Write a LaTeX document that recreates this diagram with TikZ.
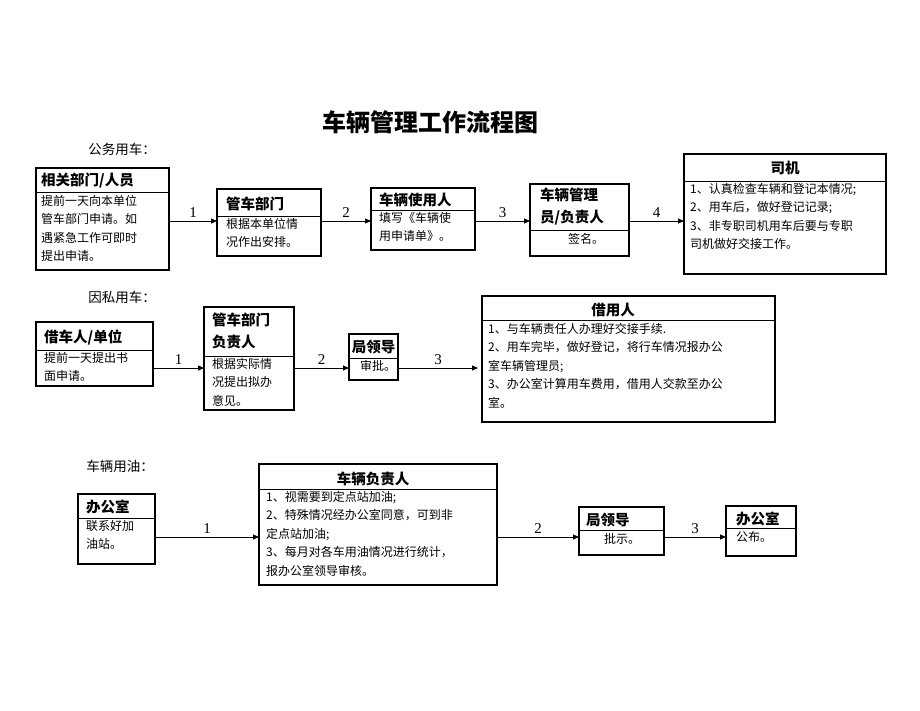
\documentclass[tikz,border=0pt]{standalone}
\usepackage{fontspec}
\setmainfont{Liberation Serif}
\newfontfamily\cjk{Noto Sans CJK SC}
\usetikzlibrary{arrows.meta}
\begin{document}
\begin{tikzpicture}[x=1pt,y=-1pt,
 box/.style={draw,line width=1.1pt,inner sep=0pt},
 hd/.style={font=\cjk\bfseries\fontsize{14.5}{17}\selectfont,inner sep=0pt,align=left},
 bd/.style={font=\cjk\fontsize{12}{18.5}\selectfont,inner sep=0pt,align=left,anchor=north west},
 lab/.style={font=\cjk\fontsize{13.5}{15}\selectfont},
 num/.style={font=\fontsize{15}{16}\selectfont,above,inner sep=3pt},
 arr/.style={-{Triangle[length=6pt,width=5pt]},line width=0.8pt}]
\useasboundingbox (0,0) rectangle (920,711);
\node[font=\cjk\bfseries\fontsize{24}{28}\selectfont] (title) at (430,122) {车辆管理工作流程图};
\node[lab] (l1) at (122,149) {公务用车：};
\node[lab] (l2) at (122,297) {因私用车：};
\node[lab] (l3) at (120,466) {车辆用油：};
% row 1
\node[box,minimum width=133pt,minimum height=102pt] (A) at (102.5,219) {};
\draw (36,192)--(169,192);
\node[hd,anchor=west] at (41,181) {相关部门/人员};
\node[bd,text width=128pt] at (41,195) {提前一天向本单位\\管车部门申请。如\\遇紧急工作可即时\\提出申请。};
\node[box,minimum width=104pt,minimum height=67pt] (B) at (269,222.5) {};
\draw (217,216)--(321,216);
\node[hd,anchor=west] at (226,204) {管车部门};
\node[bd] at (226,218) {根据本单位情\\况作出安排。};
\node[box,minimum width=104pt,minimum height=62pt] (C) at (423,219) {};
\draw (371,210)--(475,210);
\node[hd,anchor=west] at (379,200) {车辆使用人};
\node[bd] at (379,212) {填写《车辆使\\用申请单》。};
\node[box,minimum width=99pt,minimum height=72pt] (D) at (579.5,220) {};
\draw (530,230)--(629,230);
\node[hd,anchor=north west,font=\cjk\bfseries\fontsize{14.5}{22}\selectfont] at (540,188) {车辆管理\\员/负责人};
\node[bd] at (568,233) {签名。};
\node[box,minimum width=202pt,minimum height=120pt] (E) at (785,214) {};
\draw (684,181)--(886,181);
\node[hd] at (785,168) {司机};
\node[bd,text width=198pt] at (690,183) {1、认真检查车辆和登记本情况;\\2、用车后，做好登记记录;\\3、非专职司机用车后要与专职\\司机做好交接工作。};
\draw[arr] (169,221) -- node[num]{1} (217,221);
\draw[arr] (321,221) -- node[num]{2} (371,221);
\draw[arr] (475,221) -- node[num]{3} (530,221);
\draw[arr] (629,221) -- node[num]{4} (684,221);
% row 2
\node[box,minimum width=117pt,minimum height=64pt] (F) at (94.5,354) {};
\draw (36,350)--(153,350);
\node[hd,anchor=west] at (44,337) {借车人/单位};
\node[bd] at (44,352) {提前一天提出书\\面申请。};
\node[box,minimum width=90pt,minimum height=103pt] (G) at (249,358.5) {};
\draw (204,356)--(294,356);
\node[hd,anchor=north west,font=\cjk\bfseries\fontsize{14.5}{22}\selectfont] at (212,313) {管车部门\\负责人};
\node[bd] at (212,358) {根据实际情\\况提出拟办\\意见。};
\node[box,minimum width=49pt,minimum height=46pt] (H) at (373.5,357) {};
\draw (349,358)--(398,358);
\node[hd] at (373.5,347) {局领导};
\node[bd] at (360,360) {审批。};
\node[box,minimum width=293pt,minimum height=126pt] (I) at (628.5,359) {};
\draw (482,320)--(775,320);
\node[hd] at (613,310) {借用人};
\node[bd,text width=288pt] at (488,323) {1、与车辆责任人办理好交接手续.\\2、用车完毕，做好登记，将行车情况报办公\\室车辆管理员;\\3、办公室计算用车费用，借用人交款至办公\\室。};
\draw[arr] (153,368) -- node[num]{1} (204,368);
\draw[arr] (294,368) -- node[num]{2} (349,368);
\draw[arr] (398,368) -- node[num]{3} (478,368);
% row 3
\node[box,minimum width=77pt,minimum height=70pt] (J) at (116.5,529) {};
\draw (78,518)--(155,518);
\node[hd,anchor=west] at (86,507) {办公室};
\node[bd] at (86,520) {联系好加\\油站。};
\node[box,minimum width=238pt,minimum height=121pt] (K) at (378,524.5) {};
\draw (259,489)--(497,489);
\node[hd] at (373,479) {车辆负责人};
\node[bd,text width=234pt] at (266,491) {1、视需要到定点站加油;\\2、特殊情况经办公室同意，可到非\\定点站加油;\\3、每月对各车用油情况进行统计，\\报办公室领导审核。};
\node[box,minimum width=85pt,minimum height=48pt] (L) at (621.5,531) {};
\draw (579,530)--(664,530);
\node[hd,anchor=west] at (586,520) {局领导};
\node[bd] at (604,533) {批示。};
\node[box,minimum width=70pt,minimum height=50pt] (M) at (761,531) {};
\draw (726,528)--(796,528);
\node[hd,anchor=west] at (736,519) {办公室};
\node[bd] at (736,531) {公布。};
\draw[arr] (155,537) -- node[num]{1} (259,537);
\draw[arr] (497,537) -- node[num]{2} (579,537);
\draw[arr] (664,537) -- node[num]{3} (726,537);
\end{tikzpicture}
\end{document}
